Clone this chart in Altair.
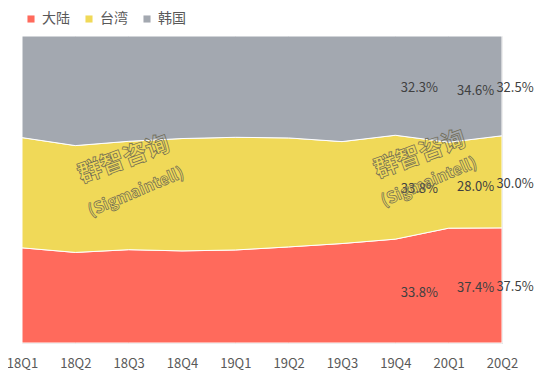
import altair as alt
import pandas as pd

quarters = ["18Q1", "18Q2", "18Q3", "18Q4", "19Q1", "19Q2", "19Q3", "19Q4", "20Q1", "20Q2"]
series = ["大陆", "台湾", "韩国"]
mainland = [31.0, 29.5, 30.4, 30.0, 30.3, 31.3, 32.4, 33.8, 37.4, 37.5]
taiwan = [35.9, 34.8, 35.3, 36.6, 36.7, 35.5, 33.2, 33.8, 28.0, 30.0]
korea = [33.1, 35.7, 34.3, 33.4, 33.0, 33.2, 34.4, 32.3, 34.6, 32.5]
colors = ["#FF6A5C", "#F0D958", "#A3A8B0"]
label_quarters = ["19Q4", "20Q1", "20Q2"]
watermark_texts = ["群智咨询", "(Sigmaintell)"]

rows = []
for s_i, (name, vals) in enumerate(zip(series, [mainland, taiwan, korea])):
    for q, v in zip(quarters, vals):
        rows.append({"quarter": q, "series": name, "value": v, "ord": s_i})
df = pd.DataFrame(rows)

FONT = "Noto Sans CJK SC"

x_scale = alt.Scale(type="point", padding=0)
x_enc = alt.X("quarter:N", sort=quarters, scale=x_scale,
              axis=alt.Axis(title=None, labelAngle=0, ticks=False, domain=False,
                            grid=False, labelPadding=14, labelFontSize=13,
                            labelColor="#595959", labelFont=FONT))

area = alt.Chart(df).mark_area(stroke="#FFFFFF", strokeWidth=1, interpolate="linear").encode(
    x=x_enc,
    y=alt.Y("value:Q", stack="normalize", axis=None, scale=alt.Scale(domain=[0, 1])),
    color=alt.Color("series:N", scale=alt.Scale(domain=series, range=colors),
                    legend=alt.Legend(title=None, orient="none", legendX=2, legendY=-24,
                                      direction="horizontal", symbolType="square",
                                      symbolSize=50, labelFontSize=14, labelFont=FONT,
                                      labelColor="#595959", columnPadding=12,
                                      labelLimit=200, symbolStrokeWidth=0)),
    order=alt.Order("ord:Q", sort="ascending"),
)

base_text = alt.Chart(df).transform_stack(
    stack="value", groupby=["quarter"], as_=["y0", "y1"],
    sort=[alt.SortField("ord", order="ascending")], offset="normalize"
).transform_calculate(
    mid="(datum.y0 + datum.y1) / 2",
    label="format(datum.value, '.1f') + '%'"
)

offsets = {"19Q4": 24, "20Q1": 27, "20Q2": 13}
text_layers = []
for q in label_quarters:
    t = base_text.transform_filter(alt.datum.quarter == q).mark_text(
        dx=offsets[q], dy=2, fontSize=13, font=FONT, color="#404040"
    ).encode(
        x=alt.X("quarter:N", sort=quarters, scale=x_scale),
        y=alt.Y("mid:Q", scale=alt.Scale(domain=[0, 1])),
        text="label:N",
    )
    text_layers.append(t)

# decorative watermark (two copies)
def wm(text, px, py, size, angle):
    return alt.Chart(pd.DataFrame({"t": [text]})).mark_text(
        angle=angle, font=FONT, fontWeight="bold", fontSize=size,
        fillOpacity=0.05, stroke="#6E6A55", strokeWidth=0.7, color="#F0D958"
    ).encode(x=alt.value(px), y=alt.value(py), text="t:N")

watermarks = [
    wm(watermark_texts[0], 102, 124, 24, 340),
    wm(watermark_texts[1], 114, 156, 16, 337),
    wm(watermark_texts[0], 398, 119, 24, 340),
    wm(watermark_texts[1], 407, 146, 16, 337),
]

chart = alt.layer(area, *text_layers, *watermarks).properties(
    width=480, height=307,
    padding={"left": 14, "top": 28, "right": 44, "bottom": 30},
    autosize=alt.AutoSizeParams(type="none"),
).configure_view(stroke=None).configure(background="white")

chart.save("out.html", embed_options={"renderer": "svg", "actions": False})
